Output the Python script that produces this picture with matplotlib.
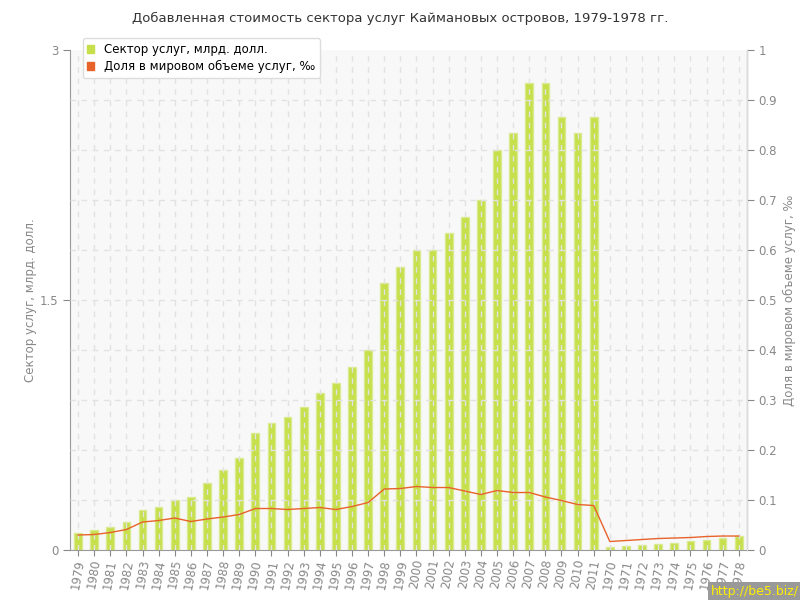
import numpy as np
import matplotlib.pyplot as plt
from matplotlib.patches import Rectangle

years = [str(y) for y in range(1979, 2012)] + [str(y) for y in range(1970, 1979)]

services = [0.10, 0.12, 0.14, 0.17, 0.24, 0.26, 0.30, 0.32, 0.40, 0.48,
            0.55, 0.70, 0.76, 0.80, 0.86, 0.94, 1.00, 1.10, 1.20, 1.60,
            1.70, 1.80, 1.80, 1.90, 2.00, 2.10, 2.40, 2.50, 2.80, 2.80,
            2.60, 2.50, 2.60,
            0.020, 0.024, 0.030, 0.036, 0.044, 0.052, 0.060, 0.072, 0.086]

share = [0.030, 0.031, 0.035, 0.041, 0.056, 0.059, 0.064, 0.057, 0.062, 0.066,
         0.071, 0.083, 0.083, 0.081, 0.083, 0.085, 0.081, 0.087, 0.095, 0.122,
         0.123, 0.127, 0.125, 0.125, 0.118, 0.111, 0.119, 0.115, 0.115, 0.106,
         0.099, 0.091, 0.089,
         0.017, 0.019, 0.021, 0.023, 0.024, 0.025, 0.027, 0.028, 0.028]

title = "Добавленная стоимость сектора услуг Каймановых островов, 1979-1978 гг."
left_label = "Сектор услуг, млрд. долл."
right_label = "Доля в мировом объеме услуг, ‰"

plt.rcParams['font.family'] = ['DejaVu Sans']
gray = '#888888'

fig = plt.figure(figsize=(8, 6), dpi=100)
ax1 = fig.add_axes([0.0875, 0.0833, 0.846, 0.8334])
ax1.set_facecolor('#f8f8f8')
ax2 = ax1.twinx()

x = np.arange(len(years))
ax1.bar(x, services, width=0.48, color='#c6df4b', edgecolor='#d9eb8e',
        linewidth=1, zorder=2)

# grid drawn over the bars
for xi in x:
    ax1.axvline(xi, color='#e2e2e2', linestyle=(0, (4, 4)), linewidth=1, zorder=3)
for yv in np.arange(0.1, 1.0, 0.1):
    ax2.axhline(yv, color='#e2e2e2', linestyle=(0, (4, 4)), linewidth=1, zorder=1)

ax2.plot(x, share, color='#e8632b', linewidth=1, zorder=4)

ax1.set_xlim(-0.5, len(years) - 0.5)
ax1.set_ylim(0, 3)
ax2.set_ylim(0, 1)
ax1.set_yticks([0, 1.5, 3])
ax1.set_yticklabels(['0', '1.5', '3'])
ax2.set_yticks(np.round(np.arange(0, 1.01, 0.1), 1))
ax2.set_yticklabels(['0'] + ['%.1f' % v for v in np.arange(0.1, 1.0, 0.1)] + ['1'])
ax1.set_xticks(x)
ax1.set_xticklabels(years, rotation=80, fontsize=8.5, color=gray)

ax1.tick_params(axis='y', colors=gray, labelsize=8.5, length=5, direction='out')
ax2.tick_params(axis='y', colors=gray, labelsize=8.5, length=5, direction='out')
ax1.tick_params(axis='x', colors=gray, length=4, pad=2)

for sp in ['top']:
    ax1.spines[sp].set_visible(False)
    ax2.spines[sp].set_visible(False)
ax1.spines['left'].set_color('#999999')
ax1.spines['bottom'].set_color('#999999')
ax2.spines['right'].set_color('#dddddd')
ax2.spines['left'].set_visible(False)
ax2.spines['bottom'].set_visible(False)

ax1.set_ylabel(left_label, color=gray, fontsize=8.5, labelpad=2)
ax2.set_ylabel(right_label, color=gray, fontsize=8.5, labelpad=4)

fig.text(0.5, 0.97, title, ha='center', va='center', fontsize=9.5, color='#333333')

# legend
h1 = Rectangle((0, 0), 1, 1, color='#c6df4b')
h2 = Rectangle((0, 0), 1, 1, color='#e8632b')
leg = ax2.legend([h1, h2], [left_label, right_label], loc='upper left',
                 bbox_to_anchor=(0.01, 1.035), fontsize=8.5, frameon=True,
                 fancybox=True, shadow=False, handlelength=0.6, handleheight=0.6,
                 borderpad=0.4, labelspacing=0.35, handletextpad=0.8)
leg.get_frame().set_edgecolor('#dddddd')
leg.get_frame().set_facecolor('white')
leg.get_frame().set_alpha(1)
leg.set_zorder(10)

fig.text(0.999, 0.003, "http://be5.biz/", ha='right', va='bottom', fontsize=9,
         color='#ffee00', bbox=dict(facecolor='#999999', edgecolor='none', pad=2))

fig.savefig('out.png', dpi=100)
